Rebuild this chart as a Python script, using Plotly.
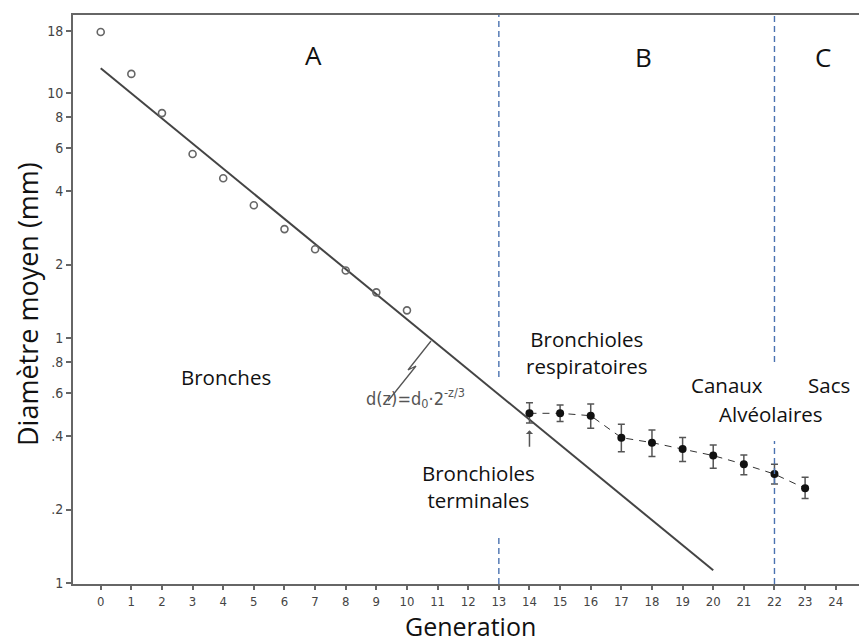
import numpy as np
import plotly.graph_objects as go

# ---- data ----
gen_open = [0, 1, 2, 3, 4, 5, 6, 7, 8, 9, 10]
diam_open = [17.8, 12.0, 8.3, 5.65, 4.5, 3.49, 2.79, 2.31, 1.89, 1.54, 1.30]

fit_gen = [0, 20]
fit_diam = [12.65, 0.113]

gen_filled = [14, 15, 16, 17, 18, 19, 20, 21, 22, 23]
diam_filled = [0.494, 0.494, 0.483, 0.393, 0.375, 0.353, 0.332, 0.306, 0.279, 0.244]
diam_upper = [0.546, 0.534, 0.539, 0.446, 0.422, 0.394, 0.367, 0.334, 0.306, 0.271]
diam_lower = [0.451, 0.457, 0.429, 0.344, 0.329, 0.314, 0.295, 0.277, 0.254, 0.222]

zone_bounds = [13, 22]

x_ticks = list(range(0, 25))
y_tickvals = [0.1, 0.2, 0.4, 0.6, 0.8, 1, 2, 4, 6, 8, 10, 18]
y_ticktext = ["1", ".2", ".4", ".6", ".8", "1", "2", "4", "6", "8", "10", "18"]

# ---- layout geometry helpers (pixel -> paper) ----
W, H = 859, 642
ML, MR, MT, MB = 73, 0, 15, 58
PW, PH = W - ML - MR, H - MT - MB


def px(xp):
    return (xp - ML) / PW


def py(yp):
    return (H - MB - yp) / PH


err_plus = [u - v for u, v in zip(diam_upper, diam_filled)]
err_minus = [v - l for v, l in zip(diam_filled, diam_lower)]

fig = go.Figure()

fig.add_trace(go.Scatter(
    x=fit_gen, y=fit_diam, mode="lines",
    line=dict(color="#444444", width=2), showlegend=False, hoverinfo="skip"))

fig.add_trace(go.Scatter(
    x=gen_open, y=diam_open, mode="markers",
    marker=dict(symbol="circle-open", size=7, color="#666666", line=dict(width=1.6)),
    showlegend=False))

fig.add_trace(go.Scatter(
    x=gen_filled, y=diam_filled, mode="lines+markers",
    line=dict(color="#333333", width=1, dash="7px,6px"),
    marker=dict(symbol="circle", size=8, color="#111111"),
    error_y=dict(type="data", symmetric=False, array=err_plus, arrayminus=err_minus,
                 color="#555555", thickness=1.5, width=3.5),
    showlegend=False))

shapes = []
blue = "#4A72B0"
dash = dict(color=blue, width=1.4, dash="6px,4px")
# zone separators (x=13, x=22), broken around the text
shapes.append(dict(type="line", xref="x", yref="paper", x0=zone_bounds[0], x1=zone_bounds[0],
                   y0=py(377), y1=1, line=dash))
shapes.append(dict(type="line", xref="x", yref="paper", x0=zone_bounds[0], x1=zone_bounds[0],
                   y0=0, y1=py(535), line=dash))
shapes.append(dict(type="line", xref="x", yref="paper", x0=zone_bounds[1], x1=zone_bounds[1],
                   y0=py(362), y1=1, line=dash))
shapes.append(dict(type="line", xref="x", yref="paper", x0=zone_bounds[1], x1=zone_bounds[1],
                   y0=0, y1=py(441), line=dash))
# zigzag leader from equation to fit line
pts = [(388, 401), (416, 366), (408, 370), (431, 341)]
path = "M " + " L ".join(f"{px(a):.5f},{py(b):.5f}" for a, b in pts)
shapes.append(dict(type="path", xref="paper", yref="paper", path=path,
                   line=dict(color="#555555", width=1.3)))

txt_font = dict(family="'Open Sans', sans-serif", color="#111111")
annotations = []


def label(text, xp, yp, size, **kw):
    annotations.append(dict(text=text, x=px(xp), y=py(yp), xref="paper", yref="paper",
                            showarrow=False, xanchor="center", yanchor="middle",
                            font=dict(size=size, **txt_font), **kw))


label("A", 313, 55, 26)
label("B", 643, 57, 26)
label("C", 823, 57, 26)
label("Bronches", 226, 377, 20.5)
label("Bronchioles<br>respiratoires", 587, 353, 20.5)
label("Canaux", 727, 385, 20.5)
label("Sacs", 829, 385, 20.5)
label("Alvéolaires", 771, 414, 20.5)
label("Bronchioles<br>terminales", 478, 486, 20.5)
# axis titles
label("Generation", 470, 626, 25, borderpad=0)
label("Diamètre moyen (mm)", 27, 304, 27, textangle=-90)
annotations.append(dict(text="d(z)=d<sub>0</sub>·2<sup>-z/3</sup>", x=px(415), y=py(413),
                        xref="paper", yref="paper", showarrow=False,
                        font=dict(size=18, family="DejaVu Sans Condensed", color="#555555")))
# small arrow under terminal bronchiole point
annotations.append(dict(x=gen_filled[0], y=float(np.log10(diam_lower[0]) - 0.03), xref="x", yref="y",
                        ax=0, ay=18, showarrow=True, arrowhead=1, arrowsize=0.8,
                        arrowwidth=1.5, arrowcolor="#555555", text=""))

fig.update_layout(
    width=W, height=H,
    margin=dict(l=ML, r=MR, t=MT, b=MB),
    paper_bgcolor="white", plot_bgcolor="white",
    shapes=shapes, annotations=annotations,
    xaxis=dict(range=[-0.905, 24.76], tickvals=x_ticks, ticktext=[str(t) for t in x_ticks],
               showgrid=False, zeroline=False, showline=True, mirror=True, automargin=False,
               linecolor="#666666", linewidth=2, ticks="outside", ticklen=4,
               tickcolor="#666666", tickwidth=1.5,
               tickfont=dict(size=13, family="DejaVu Sans Condensed", color="#444444")),
    yaxis=dict(type="log", range=[-1.003, 1.3196], tickvals=y_tickvals, ticktext=y_ticktext,
               showgrid=False, zeroline=False, showline=True, mirror=False, automargin=False,
               linecolor="#666666", linewidth=2, ticks="outside", ticklen=5,
               tickcolor="#666666", tickwidth=1.5,
               tickfont=dict(size=14, family="DejaVu Sans Condensed", color="#444444")),
)

fig.write_html("out.html", config={"displayModeBar": False},
               post_script="document.body.style.margin='0';")
